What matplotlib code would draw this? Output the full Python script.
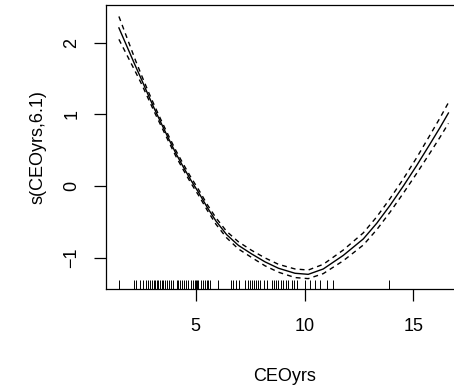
import matplotlib
matplotlib.use("Agg")
import matplotlib.pyplot as plt

# smooth term estimate s(CEOyrs, 6.1)
ceo_grid = [1.47, 2.24, 2.52, 2.82, 3.13, 3.44, 3.74, 4.08, 4.43, 4.78,
            5.17, 5.53, 5.93, 6.42, 6.96, 7.57, 8.18, 8.80, 9.56, 10.17,
            10.86, 11.78, 12.70, 13.32, 13.93, 14.54, 15.16, 15.77, 16.23, 16.61]
fit = [2.21, 1.67, 1.48, 1.27, 1.06, 0.86, 0.67, 0.46, 0.265, 0.08,
       -0.11, -0.30, -0.49, -0.68, -0.83, -0.95, -1.06, -1.15, -1.22, -1.235,
       -1.16, -0.97, -0.74, -0.52, -0.27, 0.00, 0.29, 0.59, 0.82, 1.02]
band = [0.16, 0.08, 0.06, 0.05, 0.045, 0.04, 0.04, 0.04, 0.04, 0.04,
        0.04, 0.04, 0.045, 0.045, 0.05, 0.05, 0.055, 0.055, 0.06, 0.06,
        0.065, 0.075, 0.085, 0.09, 0.095, 0.10, 0.11, 0.125, 0.135, 0.145]

# rug of observed CEOyrs values
rug_x = [1.47, 2.16, 2.26, 2.44, 2.59, 2.72, 2.82, 2.90, 3.01, 3.08, 3.13,
         3.21, 3.28, 3.36, 3.44, 3.51, 3.59, 3.67, 3.79, 3.86, 3.97, 4.13,
         4.20, 4.28, 4.36, 4.46, 4.55, 4.66, 4.77, 4.89, 4.97, 5.01, 5.07,
         5.12, 5.23, 5.35, 5.43, 5.51, 5.58, 5.66, 6.01, 6.62, 6.73, 6.85,
         7.00, 7.27, 7.39, 7.50, 7.57, 7.68, 7.76, 7.88, 7.95, 8.12, 8.26,
         8.49, 8.60, 8.69, 8.80, 8.92, 9.03, 9.15, 9.26, 9.41, 9.53, 9.64,
         10.02, 10.25, 10.48, 10.71, 11.02, 11.30, 13.90]

x_ticks = [5, 10, 15]
y_ticks = [-1, 0, 1, 2]

plt.rcParams['font.family'] = ['Liberation Sans', 'DejaVu Sans']
plt.rcParams['font.size'] = 13

fig = plt.figure(figsize=(4.54, 3.92), dpi=100)
ax = fig.add_axes([106 / 454, 1 - 289 / 392, (463 - 106) / 454, 284 / 392])

upper = [f + b for f, b in zip(fit, band)]
lower = [f - b for f, b in zip(fit, band)]
ax.plot(ceo_grid, fit, color="black", lw=1.0)
ax.plot(ceo_grid, upper, color="black", lw=1.0, ls=(0, (3.5, 3)))
ax.plot(ceo_grid, lower, color="black", lw=1.0, ls=(0, (3.5, 3)))

ax.vlines(rug_x, 0, 0.032, color="black", lw=0.7,
          transform=ax.get_xaxis_transform())

ax.set_xlim(0.877, 17.28)
ax.set_ylim(-1.44, 2.53)
ax.set_xticks(x_ticks)
ax.set_yticks(y_ticks)
ax.set_yticklabels([str(v).replace("-", "\u2212") for v in y_ticks],
                   rotation=90, va="center")
ax.tick_params(length=8.6, width=0.9, direction="out")
ax.tick_params(axis="x", pad=12)
ax.tick_params(axis="y", pad=10)
for s in ax.spines.values():
    s.set_linewidth(0.9)

ax.set_xlabel("CEOyrs", labelpad=24)
ax.set_ylabel("s(CEOyrs,6.1)", labelpad=12)

fig.savefig("out.png", dpi=100)
